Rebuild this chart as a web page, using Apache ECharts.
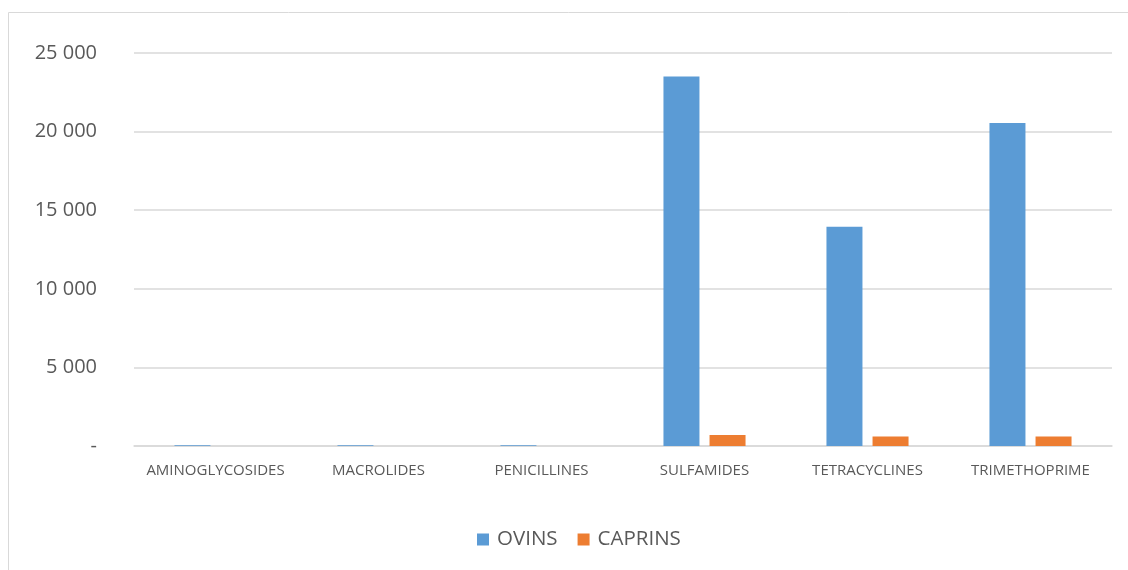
<!DOCTYPE html>
<html><head><meta charset="utf-8">
<script src="https://cdn.jsdelivr.net/npm/echarts@6/dist/echarts.min.js"></script>
<style>html,body{margin:0;padding:0;background:#fff}#c{width:1128px;height:570px}</style>
</head><body><div id="c"></div>
<script>
const categories = ['AMINOGLYCOSIDES','MACROLIDES','PENICILLINES','SULFAMIDES','TETRACYCLINES','TRIMETHOPRIME'];
const ovins = [40, 40, 40, 23500, 13950, 20550];
const caprins = [3, 3, 3, 700, 600, 600];
const seriesNames = ['OVINS','CAPRINS'];
const colors = ['#5b9bd5','#ed7d31'];

const chart = echarts.init(document.getElementById('c'), null, {renderer:'canvas'});
const fmt = v => v === 0 ? '-' : String(v).replace(/\B(?=(\d{3})+(?!\d))/g, ' ');
chart.setOption({
  animation:false,
  color: colors,
  graphic:[{type:'rect', shape:{x:8.5,y:12.5,width:1130,height:570}, style:{fill:'none',stroke:'#d9d9d9',lineWidth:1}, silent:true}],
  grid:{left:134,right:16,top:53,bottom:124},
  legend:{bottom:15,left:472,itemWidth:12,itemHeight:12,itemGap:20,icon:'rect',
    textStyle:{fontFamily:'Open Sans',fontSize:20.5,color:'#595959',padding:[0,0,0,3]}},
  xAxis:{type:'category',data:categories,
    axisLine:{lineStyle:{color:'#d9d9d9',width:1.5}},axisTick:{show:false},
    axisLabel:{interval:0,hideOverlap:false,fontFamily:'Open Sans',fontSize:15,color:'#595959',margin:17}},
  yAxis:{type:'value',min:0,max:25000,interval:5000,
    axisLine:{show:false},axisTick:{show:false},
    splitLine:{lineStyle:{color:'#d9d9d9',width:1.5}},
    axisLabel:{formatter:fmt,fontFamily:'Open Sans',fontSize:20,color:'#595959',margin:37}},
  series:[
    {name:seriesNames[0],type:'bar',data:ovins,barWidth:36,barGap:'28%'},
    {name:seriesNames[1],type:'bar',data:caprins,barWidth:36,barGap:'28%'}
  ]
});
</script></body></html>
